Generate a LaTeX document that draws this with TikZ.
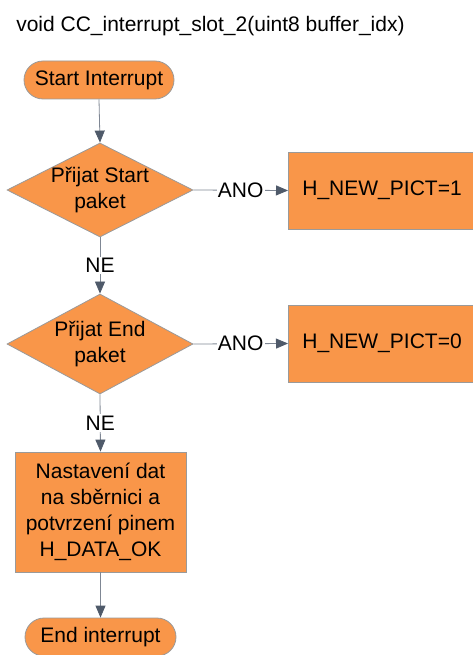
\documentclass[tikz,border=0pt]{standalone}
\usepackage{fontspec}
\setmainfont{Liberation Sans}
\usetikzlibrary{shapes.geometric,shapes.misc,arrows.meta}
\definecolor{boxfill}{HTML}{F99649}
\definecolor{boxline}{HTML}{9A9A9A}
\definecolor{wire}{HTML}{7F8794}
\definecolor{tipcol}{HTML}{4F5A6A}
\begin{document}
\begin{tikzpicture}[x=0.75pt,y=-0.75pt,
  every node/.style={font=\fontsize{15.75}{19.5}\selectfont},
  terminal/.style={rounded rectangle, draw=boxline, fill=boxfill, line width=0.6pt,
    minimum height=28.5pt, inner sep=0pt},
  decision/.style={diamond, draw=boxline, fill=boxfill, line width=0.6pt,
    minimum width=139.5pt, inner sep=0pt},
  process/.style={rectangle, draw=boxline, fill=boxfill, line width=0.6pt, inner sep=0pt},
  lbl/.style={fill=white, inner xsep=1pt, inner ysep=1pt},
  conn/.style={draw=wire, line width=0.6pt,
    -{Triangle[width=7.5pt,length=9pt,color=tipcol]}},
]
\clip (0,0) rectangle (473,655);
\useasboundingbox (0,0) rectangle (473,655);

% function signature
\node[anchor=base west, inner sep=0pt] (title) at (16,31.5)
  {void CC\_interrupt\_slot\_2(uint8 buffer\_idx)};

% start terminal
\node[terminal, minimum width=112.5pt] (start) at (99,80) {Start Interrupt};

% first decision
\node[decision, minimum height=70.5pt] (d1) at (100,190) {};
\node[align=center, inner sep=0pt] (d1txt) at (100,190) {Přijat Start\\paket};
\node[process, anchor=west, minimum height=57.75pt, text width=123pt,
  inner xsep=10.5pt, align=left] (b1) at (288,190.5) {H\_NEW\_PICT=1};

% second decision
\node[decision, minimum height=75pt] (d2) at (100,344) {};
\node[align=center, inner sep=0pt] (d2txt) at (100,344) {Přijat End\\paket};
\node[process, anchor=west, minimum height=57.75pt, text width=123pt,
  inner xsep=10.5pt, align=left] (b2) at (288,343.5) {H\_NEW\_PICT=0};

% data output
\node[process, minimum width=128.25pt, minimum height=90pt, align=center]
  (b3) at (100.5,512) {Nastavení dat\\na sběrnici a\\potvrzení pinem\\H\_DATA\_OK};

% end terminal
\node[terminal, minimum width=113.25pt] (stop) at (100.5,637) {End interrupt};

% connectors
\draw[conn] (start.south) -- (d1.north);
\draw[conn] (d1.east) -- node[lbl] (ano1) {ANO} (b1.west);
\draw[conn] (d1.south) -- node[lbl] (ne1) {NE} (d2.north);
\draw[conn] (d2.east) -- node[lbl] (ano2) {ANO} (b2.west);
\draw[conn] (d2.south) -- node[lbl] (ne2) {NE} (b3.north);
\draw[conn] (b3.south) -- (stop.north);
\end{tikzpicture}
\end{document}
